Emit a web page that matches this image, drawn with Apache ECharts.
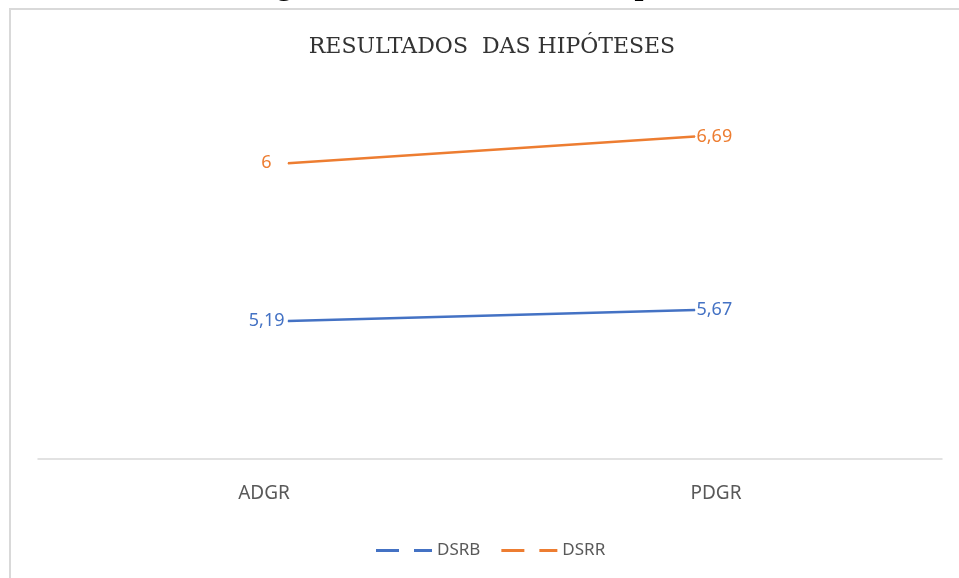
<!DOCTYPE html>
<html>
<head>
<meta charset="utf-8">
<script src="https://cdn.jsdelivr.net/npm/echarts@6/dist/echarts.min.js"></script>
<style>
html,body{margin:0;padding:0;background:#fff;}
#chart{width:959px;height:578px;}
</style>
</head>
<body>
<div id="chart"></div>
<script>
const categories = ['ADGR', 'PDGR'];
const seriesNames = ['DSRB', 'DSRR'];
const dsrb = [5.19, 5.67];
const dsrr = [6, 6.69];
const chartTitle = 'RESULTADOS  DAS HIPÓTESES';
const captionText = 'Figura 3 – Resultados das hipóteses';

const blue = '#4472C4';
const orange = '#ED7D31';
const sans = '"Noto Sans", "Open Sans", sans-serif';

function fmt(v) { return String(v).replace('.', ','); }
function items(arr, firstGap) {
  return arr.map((v, i) => ({ value: v,
    label: i === 0 ? { position: 'left', distance: firstGap } : { position: 'right', distance: 1 } }));
}

const chart = echarts.init(document.getElementById('chart'));
chart.setOption({
  animation: false,
  backgroundColor: '#ffffff',
  graphic: [
    { type: 'rect', z: -1, shape: { x: 10, y: 9, width: 1200, height: 1000 },
      style: { fill: 'none', stroke: '#d9d9d9', lineWidth: 2 } },
    { type: 'text', x: 490, y: -14,
      style: { text: captionText, fill: '#000', font: 'bold 32px "Liberation Serif", serif',
               align: 'center', verticalAlign: 'middle' } },
    { type: 'text', x: 492, y: 47,
      style: { text: chartTitle, fill: '#333333', font: '22px "DejaVu Serif", serif',
               align: 'center', verticalAlign: 'middle' } }
  ],
  legend: {
    data: seriesNames,
    left: 371, top: 537,
    itemWidth: 56, itemHeight: 3, itemGap: 21,
    icon: 'path://M0,0H23V3H0Z M38,0H56V3H38Z',
    symbolKeepAspect: false,
    textStyle: { color: '#595959', fontSize: 17, fontFamily: sans }
  },
  grid: [
    { left: 38, right: 17, top: 67, bottom: 119 },
    { left: 288, right: 264, top: 67, bottom: 119 }
  ],
  xAxis: [
    { gridIndex: 0, type: 'category', data: categories, boundaryGap: true,
      axisLine: { lineStyle: { color: '#d9d9d9', width: 1.5 } },
      axisTick: { show: false },
      axisLabel: { color: '#595959', fontSize: 19, fontFamily: sans, margin: 25 },
      splitLine: { show: false } },
    { gridIndex: 1, type: 'category', data: categories, boundaryGap: false, show: false }
  ],
  yAxis: [
    { gridIndex: 0, type: 'value', show: false, splitLine: { show: false } },
    { gridIndex: 1, type: 'value', show: false, min: -0.83, max: 16.27, splitLine: { show: false } },
    { gridIndex: 1, type: 'value', show: false, min: -1.61, max: 8.48, splitLine: { show: false } }
  ],
  series: [
    { name: seriesNames[0], type: 'line', xAxisIndex: 1, yAxisIndex: 1,
      data: items(dsrb, 3), symbol: 'circle', symbolSize: 1, showSymbol: true,
      lineStyle: { color: blue, width: 2.5 }, itemStyle: { color: blue },
      label: { show: true, color: blue, fontSize: 18, fontFamily: sans,
               formatter: p => fmt(p.value) } },
    { name: seriesNames[1], type: 'line', xAxisIndex: 1, yAxisIndex: 2,
      data: items(dsrr, 16), symbol: 'circle', symbolSize: 1, showSymbol: true,
      lineStyle: { color: orange, width: 2.5 }, itemStyle: { color: orange },
      label: { show: true, color: orange, fontSize: 18, fontFamily: sans,
               formatter: p => fmt(p.value) } }
  ]
});
</script>
</body>
</html>
